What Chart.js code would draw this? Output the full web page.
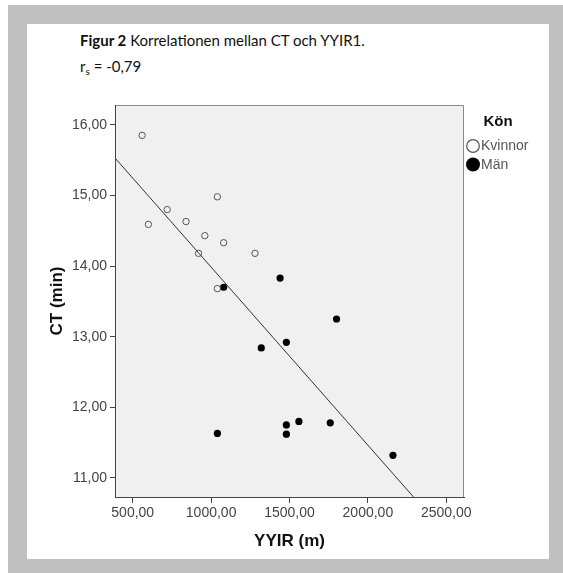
<!DOCTYPE html>
<html>
<head>
<meta charset="utf-8">
<script src="https://cdn.jsdelivr.net/npm/chart.js@4/dist/chart.umd.min.js"></script>
<style>
  html, body { margin: 0; padding: 0; background: #fff; }
  #page { position: relative; width: 563px; height: 573px; overflow: hidden; }
  #frame { position: absolute; left: 8px; top: 5px; width: 555px; height: 568px; background: #c0c0c0; }
  #sheet { position: absolute; left: 27px; top: 24px; width: 522px; height: 535px; background: #fff; }
  #caption { position: absolute; left: 80px; top: 27px; font-family: Lato, "Liberation Sans", sans-serif; font-size: 15px; color: #111; line-height: 26px; }
  #caption sub { font-size: 10px; vertical-align: -3px; line-height: 0; }
  #chart { position: absolute; left: 0; top: 0; }
</style>
</head>
<body>
<div id="page">
  <div id="frame"></div>
  <div id="sheet"></div>
  <div id="caption">
    <div><b>Figur 2</b> Korrelationen mellan CT och YYIR1.</div>
    <div>r<sub>s</sub> = -0,79</div>
  </div>
  <canvas id="chart" width="563" height="573"></canvas>
</div>
<script>
// YYIR distance (m) and CT time (min)
let womenYYIR = [560, 600, 720, 840, 960, 920, 1040, 1080, 1040, 1280];
let womenCT = [15.85, 14.59, 14.80, 14.63, 14.43, 14.18, 14.98, 14.33, 13.68, 14.18];
let menYYIR = [1080, 1440, 1320, 1480, 1800, 1040, 1480, 1480, 1560, 1760, 2160];
let menCT = [13.70, 13.83, 12.84, 12.92, 13.25, 11.63, 11.75, 11.62, 11.80, 11.78, 11.32];
// ends of the fitted line
let fitYYIR = [387, 2291];
let fitCT = [15.53, 10.73];

let xTicks = [500, 1000, 1500, 2000, 2500];
let yTicks = [11, 12, 13, 14, 15, 16];
let legendLabels = ['Kvinnor', 'Män'];

function pairs(xs, ys) {
	return xs.map((x, i) => ({x: x, y: ys[i]}));
}
function comma(v) {
	return v.toFixed(2).replace('.', ',');
}

Chart.defaults.font.family = '"Liberation Sans", Arial, sans-serif';

let plotBack = {
	id: 'plotBack',
	beforeDraw(chart) {
		let {ctx, chartArea: a} = chart;
		ctx.save();
		ctx.fillStyle = '#f0f0f0';
		ctx.fillRect(a.left, a.top, a.right - a.left, a.bottom - a.top);
		ctx.strokeStyle = '#8a8a8a';
		ctx.lineWidth = 1;
		ctx.beginPath();
		ctx.moveTo(a.left, a.top + 0.5);
		ctx.lineTo(a.right - 0.5, a.top + 0.5);
		ctx.lineTo(a.right - 0.5, a.bottom);
		ctx.stroke();
		ctx.restore();
	}
};

let genderLegend = {
	id: 'genderLegend',
	afterDraw(chart) {
		let ctx = chart.ctx;
		ctx.save();
		ctx.fillStyle = '#111';
		ctx.font = 'bold 15px "Liberation Sans", Arial, sans-serif';
		ctx.textAlign = 'center';
		ctx.textBaseline = 'middle';
		ctx.fillText('Kön', 498, 122);

		ctx.font = '14px "Liberation Sans", Arial, sans-serif';
		ctx.textAlign = 'left';
		ctx.fillStyle = '#555';
		ctx.fillText(legendLabels[0], 481, 146);
		ctx.fillText(legendLabels[1], 481, 165);

		ctx.strokeStyle = '#555';
		ctx.lineWidth = 1.2;
		ctx.beginPath();
		ctx.arc(473, 146, 6.3, 0, Math.PI * 2);
		ctx.stroke();

		ctx.fillStyle = '#000';
		ctx.beginPath();
		ctx.arc(473, 164.5, 7, 0, Math.PI * 2);
		ctx.fill();
		ctx.restore();
	}
};

let ctx = document.getElementById('chart').getContext('2d');

let myChart = new Chart(ctx, {
	type: 'scatter',
	data: {
		datasets: [{
			label: legendLabels[0],
			data: pairs(womenYYIR, womenCT),
			pointRadius: 3.2,
			pointBorderWidth: 1,
			pointBorderColor: '#555',
			pointBackgroundColor: 'rgba(0,0,0,0)'
		}, {
			label: legendLabels[1],
			data: pairs(menYYIR, menCT),
			pointRadius: 3.6,
			pointBorderWidth: 0,
			pointBackgroundColor: '#000'
		}, {
			label: 'fit',
			data: pairs(fitYYIR, fitCT),
			showLine: true,
			borderColor: '#333',
			borderWidth: 1,
			pointRadius: 0
		}]
	},
	options: {
		responsive: false,
		animation: false,
		layout: {
			padding: {left: 0, top: 105, right: 99, bottom: 0}
		},
		plugins: {
			legend: {display: false},
			tooltip: {enabled: false}
		},
		scales: {
			x: {
				type: 'linear',
				min: 387,
				max: 2613,
				afterBuildTicks: (scale) => { scale.ticks = xTicks.map(v => ({value: v})); },
				afterFit: (scale) => { scale.height = 76; },
				grid: {drawOnChartArea: false, drawTicks: true, tickLength: 6, color: '#444'},
				border: {color: '#444', width: 1},
				ticks: {
					padding: 2,
					color: '#444',
					font: {size: 14},
					maxRotation: 0,
					callback: (v) => comma(v)
				},
				title: {
					display: true,
					text: 'YYIR (m)',
					color: '#111',
					font: {size: 17, weight: 'bold'},
					padding: {top: 0, bottom: 21}
				}
			},
			y: {
				type: 'linear',
				min: 10.73,
				max: 16.28,
				afterBuildTicks: (scale) => { scale.ticks = yTicks.map(v => ({value: v})); },
				afterFit: (scale) => { scale.width = 115; },
				grid: {drawOnChartArea: false, drawTicks: true, tickLength: 5, color: '#444'},
				border: {color: '#444', width: 1},
				ticks: {
					padding: 3,
					color: '#444',
					font: {size: 14},
					callback: (v) => comma(v)
				},
				title: {
					display: true,
					text: 'CT (min)',
					color: '#111',
					font: {size: 17, weight: 'bold'},
					padding: {top: 47, bottom: 0}
				}
			}
		}
	},
	plugins: [plotBack, genderLegend]
});
</script>
</body>
</html>
